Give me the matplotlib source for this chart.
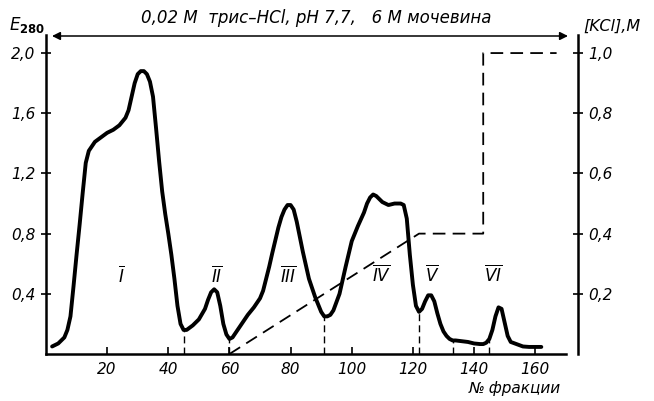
import numpy as np
import matplotlib
matplotlib.use("Agg")
import matplotlib.pyplot as plt

plt.rcParams['font.family'] = ['DejaVu Sans']
plt.rcParams['mathtext.fontset'] = 'dejavusans'

# ---- data ----
fraction = [2, 4, 6, 7, 8, 9, 10, 11, 12, 13, 14, 16, 18, 20, 22, 24, 26, 27, 28, 29,
            30, 31, 32, 33, 34, 35, 36, 37, 38, 39, 40, 41, 42, 43, 44, 45, 46, 48, 50, 52,
            53, 54, 55, 56, 57, 58, 59, 60, 61, 62, 64, 66, 68, 70, 71, 72, 73, 74, 76, 77,
            78, 79, 80, 81, 82, 84, 86, 88, 90, 91, 92, 93, 94, 96, 98, 100, 102, 104, 105,
            106, 107, 108, 109, 110, 112, 114, 115, 116, 117, 118, 119, 120, 121, 122, 123,
            124, 125, 126, 127, 128, 129, 130, 131, 132, 133, 134, 136, 138, 140, 142, 143,
            144, 145, 146, 147, 148, 149, 150, 151, 152, 154, 156, 158, 160, 162]
e280 = [0.05, 0.07, 0.11, 0.16, 0.25, 0.45, 0.66, 0.86, 1.07, 1.27, 1.35, 1.41, 1.44, 1.47,
        1.49, 1.52, 1.57, 1.62, 1.71, 1.80, 1.86, 1.88, 1.88, 1.86, 1.81, 1.71, 1.50, 1.28,
        1.08, 0.93, 0.80, 0.66, 0.50, 0.32, 0.20, 0.16, 0.16, 0.19, 0.23, 0.30, 0.36, 0.41,
        0.43, 0.41, 0.32, 0.20, 0.13, 0.10, 0.11, 0.14, 0.20, 0.26, 0.31, 0.37, 0.42, 0.50,
        0.58, 0.67, 0.84, 0.91, 0.96, 0.99, 0.99, 0.96, 0.88, 0.68, 0.50, 0.38, 0.28, 0.25,
        0.25, 0.26, 0.29, 0.40, 0.58, 0.75, 0.85, 0.94, 1.00, 1.04, 1.06, 1.05, 1.03, 1.01,
        0.99, 1.00, 1.00, 1.00, 0.99, 0.90, 0.66, 0.46, 0.32, 0.28, 0.30, 0.35, 0.39, 0.39,
        0.35, 0.27, 0.20, 0.15, 0.12, 0.10, 0.09, 0.09, 0.085, 0.08, 0.07, 0.066, 0.066,
        0.075, 0.10, 0.16, 0.25, 0.31, 0.30, 0.21, 0.12, 0.08, 0.065, 0.05, 0.047, 0.047, 0.047]

pool_bounds = [45, 60, 91, 122, 133, 145]

kcl_x = [60, 122, 143, 143, 167]
kcl_y = [0.0, 0.4, 0.4, 1.0, 1.0]

peak_names = ['I', 'II', 'III', 'IV', 'V', 'VI']
peak_x = [24.8, 55.9, 79.3, 109.8, 126.2, 146.3]
peak_y = [0.52, 0.52, 0.52, 0.53, 0.53, 0.53]

xticks = [20, 40, 60, 80, 100, 120, 140, 160]
xtick_labels = ['20', '40', '60', '80', '100', '120', '140', '160']
yticks = [0.4, 0.8, 1.2, 1.6, 2.0]
ytick_labels = ['0,4', '0,8', '1,2', '1,6', '2,0']
y2ticks = [0.2, 0.4, 0.6, 0.8, 1.0]
y2tick_labels = ['0,2', '0,4', '0,6', '0,8', '1,0']

title_text = '0,02 M  трис–HCl, pH 7,7,   6 M мочевина'

# ---- figure ----
W, H = 654, 401
fig = plt.figure(figsize=(W / 100, H / 100), dpi=100)
ax = fig.add_axes([46 / W, 47 / H, (578 - 46) / W, (354 - 35) / H])
ax2 = ax.twinx()

ax.set_xlim(0, 174)
ax.set_ylim(0, 2.12)
ax2.set_ylim(0, 1.06)

ax.plot(fraction, e280, color='black', lw=2.8, solid_capstyle='round', solid_joinstyle='round', zorder=5)

# pool boundaries
for b in pool_bounds:
    h = np.interp(b, fraction, e280)
    ax.plot([b, b], [0, h], color='black', lw=1.0, ls=(0, (5, 3)), zorder=3)

# KCl gradient
ax2.plot(kcl_x, kcl_y, color='black', lw=1.3, ls=(0, (7, 4)), zorder=4)

# peak labels
for nm, px, py in zip(peak_names, peak_x, peak_y):
    ax.text(px, py, r'$\overline{\mathit{' + nm + r'}}$', ha='center', va='center', fontsize=12)

# spines
ax.spines['top'].set_visible(False)
ax2.spines['top'].set_visible(False)
ax2.spines['left'].set_visible(False)
ax2.spines['bottom'].set_visible(False)
ax.spines['right'].set_visible(False)
ax.spines['bottom'].set_bounds(0, 170)
for sp in [ax.spines['left'], ax.spines['bottom'], ax2.spines['right']]:
    sp.set_linewidth(1.8)

ax.set_xticks(xticks)
ax.set_xticklabels(xtick_labels, fontstyle='italic', fontsize=11)
ax.set_yticks(yticks)
ax.set_yticklabels(ytick_labels, fontstyle='italic', fontsize=11)
ax2.set_yticks(y2ticks)
ax2.set_yticklabels(y2tick_labels, fontstyle='italic', fontsize=11)
ax.tick_params(axis='x', direction='in', length=5, width=1.2, pad=6)
ax.tick_params(axis='y', direction='inout', length=7, width=1.2, pad=4)
ax2.tick_params(axis='y', direction='inout', length=7, width=1.2, pad=4)

# top annotation
ax.annotate('', xy=(568 / W, (H - 36) / H), xytext=(52 / W, (H - 36) / H),
            xycoords='figure fraction', textcoords='figure fraction',
            arrowprops=dict(arrowstyle='<|-|>', color='black', lw=1.1, mutation_scale=12,
                            shrinkA=0, shrinkB=0))
fig.text(316 / W, (H - 18) / H, title_text, ha='center', va='center', fontstyle='italic', fontsize=12)
fig.text(27 / W, (H - 25) / H, r'$E_{\mathbf{280}}$', ha='center', va='center', fontsize=12)
fig.text(612 / W, (H - 26) / H, '[KCl],M', ha='center', va='center', fontstyle='italic', fontsize=11.5)
fig.text(515 / W, (H - 389) / H, '№ фракции', ha='center', va='center', fontstyle='italic', fontsize=11)

fig.savefig('out.png', dpi=100)
